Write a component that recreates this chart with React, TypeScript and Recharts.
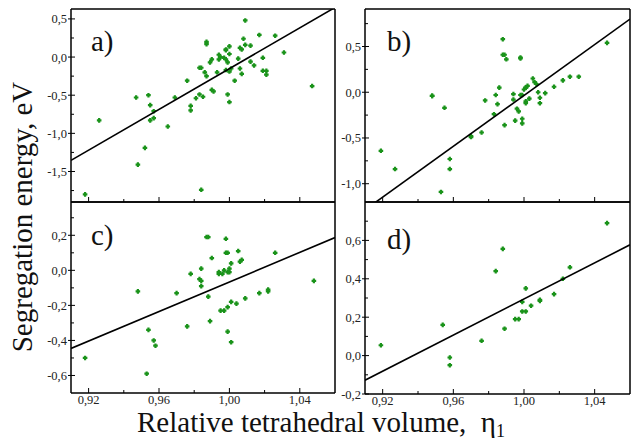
import { ScatterChart, Scatter, XAxis, YAxis } from "recharts";

const SERIF = '"Liberation Serif", "Times New Roman", Times, serif';
const DOT = "#1a931a";

// shared x axis (relative tetrahedral volume)
const xDomain = [0.91, 1.06];
const xMajor = [0.92, 0.96, 1.0, 1.04];
const xMinor = [0.94, 0.98, 1.02];

// panel a
const aX = [0.918, 0.926, 0.947, 0.948, 0.952, 0.954, 0.955, 0.955, 0.957, 0.957, 0.965, 0.969, 0.976, 0.978, 0.978, 0.981, 0.983, 0.984, 0.983, 0.985, 0.984, 0.986, 0.987, 0.987, 0.987, 0.989, 0.99, 0.99, 0.991, 0.993, 0.994, 0.995, 0.994, 0.997, 0.998, 0.998, 0.998, 0.999, 0.998, 0.999, 1.0, 1.0, 1.0, 1.0, 1.001, 1.003, 1.005, 1.006, 1.007, 1.006, 1.007, 1.008, 1.009, 1.009, 1.012, 1.012, 1.014, 1.017, 1.019, 1.019, 1.021, 1.021, 1.026, 1.031, 1.047];
const aY = [-1.8, -0.83, -0.53, -1.41, -1.19, -0.5, -0.63, -0.83, -0.71, -0.8, -0.91, -0.53, -0.31, -0.64, -0.7, -0.54, -0.14, -0.14, -0.49, -0.52, -1.74, -0.2, 0.2, 0.17, -0.25, -0.07, -0.03, -0.43, -0.45, -0.2, 0.03, 0.0, -0.03, -0.01, 0.1, 0.09, -0.03, -0.07, -0.17, -0.49, -0.59, -0.19, 0.14, 0.04, -0.15, -0.31, -0.02, 0.12, 0.1, -0.15, -0.22, 0.24, 0.48, 0.16, 0.15, -0.06, -0.11, 0.29, -0.01, -0.18, -0.18, -0.23, 0.28, 0.06, -0.38];
const aFitY = [-1.354, 0.65];

// panel b
const bX = [0.919, 0.927, 0.948, 0.948, 0.955, 0.953, 0.958, 0.958, 0.97, 0.97, 0.976, 0.978, 0.983, 0.984, 0.985, 0.986, 0.988, 0.988, 0.989, 0.989, 0.99, 0.994, 0.994, 0.995, 0.996, 0.997, 0.998, 0.998, 0.998, 0.999, 0.999, 0.999, 1.0, 1.001, 1.001, 1.001, 1.001, 1.002, 1.003, 1.005, 1.006, 1.007, 1.008, 1.009, 1.009, 1.012, 1.017, 1.022, 1.026, 1.031, 1.047];
const bY = [-0.64, -0.84, -0.04, -0.04, -0.17, -1.09, -0.73, -0.84, -0.48, -0.49, -0.44, -0.09, -0.24, -0.03, -0.13, 0.05, 0.58, 0.41, 0.41, -0.36, 0.36, -0.02, -0.08, -0.31, -0.18, -0.21, -0.03, 0.38, 0.37, -0.29, -0.34, -0.03, 0.03, 0.05, 0.05, -0.1, -0.12, 0.07, -0.07, 0.15, 0.11, 0.09, 0.0, -0.06, -0.12, -0.01, 0.06, 0.13, 0.17, 0.17, 0.54];
const bFitY = [-1.286, 0.8];

// panel c
const cX = [0.918, 0.948, 0.953, 0.954, 0.957, 0.958, 0.97, 0.976, 0.978, 0.983, 0.984, 0.984, 0.984, 0.987, 0.988, 0.988, 0.989, 0.99, 0.994, 0.994, 0.995, 0.996, 0.997, 0.997, 0.998, 0.998, 0.999, 0.999, 0.999, 0.999, 1.0, 1.0, 1.001, 1.001, 1.001, 1.004, 1.005, 1.006, 1.007, 1.009, 1.017, 1.022, 1.022, 1.026, 1.048];
const cY = [-0.5, -0.12, -0.59, -0.34, -0.4, -0.43, -0.13, -0.32, -0.02, -0.05, -0.06, 0.01, -0.09, 0.19, 0.19, -0.15, -0.29, 0.07, -0.02, -0.01, -0.23, -0.02, 0.0, -0.23, 0.18, 0.1, 0.1, -0.35, -0.21, -0.01, -0.01, 0.01, -0.18, -0.41, 0.04, -0.19, 0.11, 0.05, 0.06, -0.16, -0.13, -0.11, -0.12, 0.1, -0.06];
const cFitY = [-0.446, 0.187];

// panel d
const dX = [0.919, 0.954, 0.958, 0.958, 0.976, 0.984, 0.988, 0.989, 0.995, 0.997, 0.999, 0.999, 1.001, 1.001, 1.004, 1.009, 1.009, 1.017, 1.022, 1.026, 1.047];
const dY = [0.054, 0.16, -0.01, -0.05, 0.077, 0.44, 0.556, 0.14, 0.19, 0.19, 0.28, 0.23, 0.23, 0.35, 0.26, 0.29, 0.285, 0.32, 0.4, 0.46, 0.69];
const dFitY = [-0.128, 0.577];

const zip = (xs: number[], ys: number[]) => xs.map((x, i) => ({ x, y: ys[i] }));
const isIn = (arr: number[], v: number) => arr.some((m) => Math.abs(m - v) < 1e-9);

const Dot = (props: any) => {
  const { cx, cy } = props;
  if (cx == null || cy == null) return <g />;
  const a = 1.1, l = 2.3;
  const d = `M${cx - a},${cy - l}H${cx + a}V${cy - a}H${cx + l}V${cy + a}H${cx + a}V${cy + l}H${cx - a}V${cy + a}H${cx - l}V${cy - a}H${cx - a}Z`;
  return <path d={d} fill={DOT} />;
};

const NoDot = () => <g />;

const yTick = (majors: number[]) => (props: any) => {
  const { x, y, payload } = props;
  const major = isIn(majors, payload.value);
  return (
    <g>
      <line x1={major ? x - 3 : x} x2={x + (major ? 4 : 3)} y1={y} y2={y} stroke="#000" strokeWidth={1} />
      {major && (
        <text x={x - 4} y={y} dy={4.5} textAnchor="end" fontSize={12.5} fontFamily={SERIF} fill="#222">
          {payload.value.toFixed(1).replace(".", ",")}
        </text>
      )}
    </g>
  );
};

const xTick = (labels: boolean) => (props: any) => {
  const { x, y, payload } = props;
  const major = isIn(xMajor, payload.value);
  return (
    <g>
      <line x1={x} x2={x} y1={y} y2={y - (major ? 5 : 3)} stroke="#000" strokeWidth={1} />
      {labels && major && (
        <text x={x} y={y + 10.5} textAnchor="middle" fontSize={12.5} fontFamily={SERIF} fill="#222">
          {payload.value.toFixed(2).replace(".", ",")}
        </text>
      )}
    </g>
  );
};

type PanelProps = {
  pts: { x: number; y: number }[];
  fitY: number[];
  yDomain: number[];
  yMajor: number[];
  yMinor: number[];
  box: { left: number; right: number; top: number; bottom: number };
  xLabels: boolean;
};

function Panel({ pts, fitY, yDomain, yMajor, yMinor, box, xLabels }: PanelProps) {
  const fit = zip(xDomain, fitY);
  const axisLine = { stroke: "#000", strokeWidth: 1.5 };
  return (
    <div style={{ position: "absolute", left: 0, top: 0 }}>
      <ScatterChart
        width={631}
        height={445}
        margin={{ left: box.left - 1, right: 631 - box.right - 1, top: box.top - 1, bottom: 445 - box.bottom - 1 }}
      >
        <XAxis
          xAxisId="b"
          type="number"
          dataKey="x"
          domain={xDomain}
          allowDataOverflow
          height={1}
          ticks={[...xMajor, ...xMinor]}
          interval={0}
          tickSize={0}
          tickMargin={0}
          tickLine={false}
          axisLine={axisLine}
          tick={xTick(xLabels)}
        />
        <XAxis xAxisId="t" orientation="top" type="number" dataKey="x" domain={xDomain} allowDataOverflow height={1} tickSize={0} tick={false} tickLine={false} axisLine={axisLine} />
        <YAxis
          yAxisId="l"
          type="number"
          dataKey="y"
          domain={yDomain}
          allowDataOverflow
          width={1}
          ticks={[...yMajor, ...yMinor]}
          interval={0}
          tickSize={0}
          tickMargin={0}
          tickLine={false}
          axisLine={axisLine}
          tick={yTick(yMajor)}
        />
        <YAxis yAxisId="r" orientation="right" type="number" dataKey="y" domain={yDomain} allowDataOverflow width={1} tickSize={0} tick={false} tickLine={false} axisLine={axisLine} />
        <Scatter xAxisId="b" yAxisId="l" data={pts} shape={Dot} isAnimationActive={false} />
        <Scatter xAxisId="b" yAxisId="l" data={fit} shape={NoDot} line={{ stroke: "#000", strokeWidth: 1.6 }} isAnimationActive={false} />
      </ScatterChart>
    </div>
  );
}

export default function App() {
  return (
    <div style={{ position: "absolute", left: 0, top: 0, width: 631, height: 445, background: "#fff", fontFamily: SERIF }}>
      <Panel pts={zip(aX, aY)} fitY={aFitY} yDomain={[-1.9, 0.63]} yMajor={[-1.5, -1, -0.5, 0, 0.5]} yMinor={[-1.75, -1.25, -0.75, -0.25, 0.25]} box={{ left: 71, right: 335, top: 9, bottom: 202 }} xLabels={false} />
      <Panel pts={zip(bX, bY)} fitY={bFitY} yDomain={[-1.2, 0.91]} yMajor={[-1, -0.5, 0, 0.5]} yMinor={[-0.75, -0.25, 0.25, 0.75]} box={{ left: 365, right: 630, top: 9, bottom: 202 }} xLabels={false} />
      <Panel pts={zip(cX, cY)} fitY={cFitY} yDomain={[-0.7, 0.39]} yMajor={[-0.6, -0.4, -0.2, 0, 0.2]} yMinor={[-0.5, -0.3, -0.1, 0.1, 0.3]} box={{ left: 71, right: 335, top: 202, bottom: 393 }} xLabels />
      <Panel pts={zip(dX, dY)} fitY={dFitY} yDomain={[-0.2, 0.8]} yMajor={[-0.2, 0, 0.2, 0.4, 0.6]} yMinor={[-0.1, 0.1, 0.3, 0.5, 0.7]} box={{ left: 365, right: 630, top: 202, bottom: 394 }} xLabels />
      <svg width={631} height={445} style={{ position: "absolute", left: 0, top: 0, pointerEvents: "none" }}>
        <g fontSize={29} fill="#111" fontFamily={SERIF}>
          <text x={91} y={51}>a)</text>
          <text x={387} y={51}>b)</text>
          <text x={91} y={245}>c)</text>
          <text x={387} y={249}>d)</text>
        </g>
        <text x={32} y={217} transform="rotate(-90 32 217)" textAnchor="middle" fontSize={29} fill="#111" fontFamily={SERIF}>
          Segregation energy, eV
        </text>
        <text x={137} y={432} fontSize={29} fill="#111" fontFamily={SERIF}>
          Relative tetrahedral volume,{"\u00a0\u00a0"}η
          <tspan fontSize={18} dy={5}>1</tspan>
        </text>
      </svg>
    </div>
  );
}
